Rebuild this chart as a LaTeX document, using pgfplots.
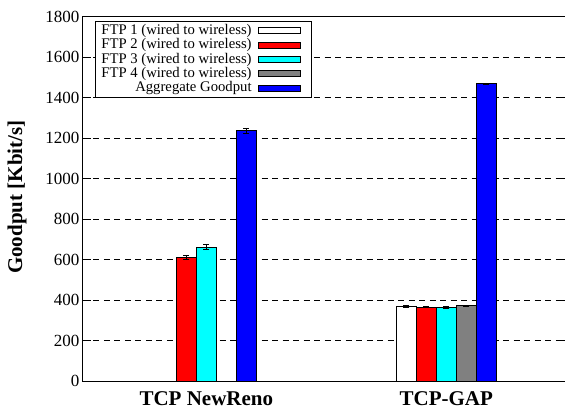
\documentclass[border=0pt]{standalone}
\usepackage{fontspec}
\setmainfont{Liberation Serif}
\usepackage{pgfplots}
\pgfplotsset{compat=1.18}
\usepackage{pgfplotstable}
\definecolor{fcyan}{RGB}{0,255,255}
\definecolor{fred}{RGB}{255,0,0}
\definecolor{fblue}{RGB}{0,0,255}
\definecolor{fgray}{RGB}{128,128,128}

\pgfplotstableread{
x y e
1 369 4
}\ftpone
\pgfplotstableread{
x y e
0 611 10
1 366 4
}\ftptwo
\pgfplotstableread{
x y e
0 662 11
1 364 4
}\ftpthree
\pgfplotstableread{
x y e
1 372 4
}\ftpfour
\pgfplotstableread{
x y e
0 1237 12
1 1468 4
}\aggr

\begin{document}
\begin{tikzpicture}
\begin{axis}[
  scale only axis, width=483pt, height=364.5pt,
  xmin=-0.514, xmax=1.499, ymin=0, ymax=1800,
  ytick={0,200,...,1800},
  xtick={0,1}, xticklabels={TCP NewReno, TCP-GAP},
  /pgf/number format/assume math mode=true,
  /pgf/number format/1000 sep={},
  x tick label style={font=\fontsize{21}{21}\selectfont\bfseries, yshift=1.5pt},
  y tick label style={font=\fontsize{17}{17}\selectfont},
  ylabel={Goodput [Kbit/s]},
  ylabel style={font=\fontsize{21}{21}\selectfont\bfseries, at={(axis description cs:-0.1366,0.505)}, anchor=center},
  ymajorgrids,
  grid style={black, dash pattern=on 6pt off 4.5pt, line width=0.6pt},
  major x tick style={draw=none},
  ytick style={black, line width=0.8pt},
  tick align=inside, major tick length=8pt,
  axis line style={line width=1pt},
  ybar, bar width=0.0829,
  every axis plot/.append style={draw=black, line width=1pt},
  error bars/y dir=both, error bars/y explicit,
  error bars/error bar style={black, line width=1pt},
  error bars/error mark options={rotate=90, black, mark size=3pt, line width=1pt},
  legend plot pos=right,
  legend cell align=right,
  legend image code/.code={\draw[#1, line width=1pt] (4pt,-3pt) rectangle (46pt,3pt); \path[draw=none, fill=none] (0pt,0pt) -- (54pt,0pt);},
  legend style={at={(rel axis cs:0.0248,0.988)}, anchor=north west,
    font=\fontsize{14.7}{14.4}\selectfont, draw=black, line width=0.8pt, fill=white,
    row sep=0pt, inner xsep=3pt, inner ysep=2pt,
    nodes={text height=10.6pt, text depth=3.4pt, inner ysep=0.2pt, inner xsep=3pt}},
]
\addplot[fill=white, bar shift=-0.1658] table[x=x, y=y, y error=e] {\ftpone};
\addlegendentry{FTP 1 (wired to wireless)}
\addplot[fill=fred, bar shift=-0.0829] table[x=x, y=y, y error=e] {\ftptwo};
\addlegendentry{FTP 2 (wired to wireless)}
\addplot[fill=fcyan, bar shift=0] table[x=x, y=y, y error=e] {\ftpthree};
\addlegendentry{FTP 3 (wired to wireless)}
\addplot[fill=fgray, bar shift=0.0829] table[x=x, y=y, y error=e] {\ftpfour};
\addlegendentry{FTP 4 (wired to wireless)}
\addplot[fill=fblue, bar shift=0.1658] table[x=x, y=y, y error=e] {\aggr};
\addlegendentry{Aggregate Goodput}
\end{axis}
\pgfresetboundingbox
\path ([xshift=-83pt,yshift=-28.8pt]current axis.south west) rectangle ([xshift=-1pt,yshift=16.7pt]current axis.north east);
\end{tikzpicture}
\end{document}
